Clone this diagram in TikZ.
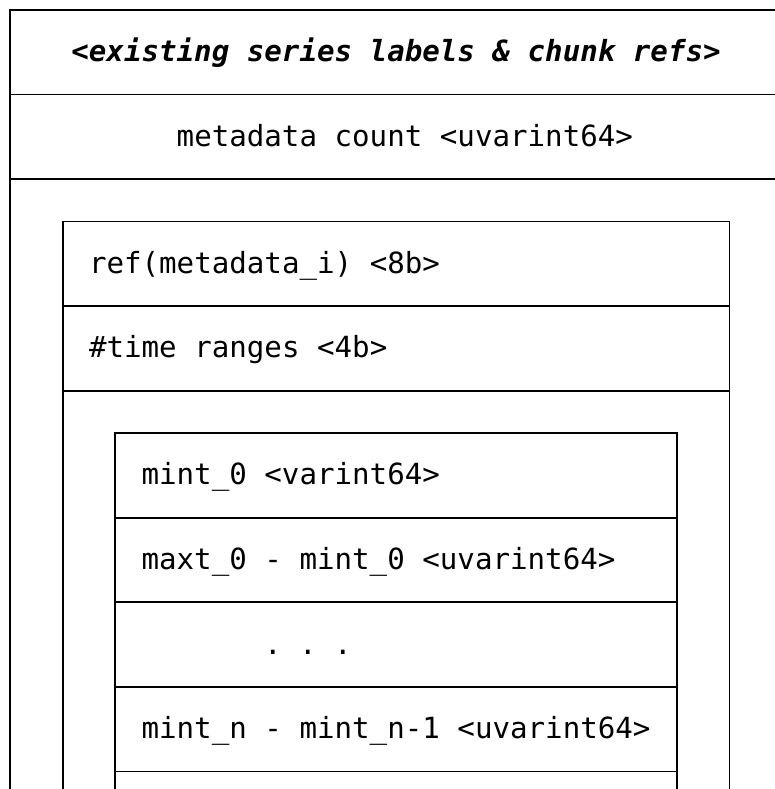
\documentclass[tikz,border=0pt]{standalone}
\usepackage{fontspec}
\setmonofont{DejaVu Sans Mono}
\begin{document}
\begin{tikzpicture}[x=1pt,y=-1pt,
  frame/.style={line width=1.8pt, black, line cap=butt},
  lbl/.style={anchor=base west, inner sep=0pt, outer sep=0pt,
    font=\fontsize{29.15}{35}\selectfont\ttfamily, text=black},
  lblbi/.style={lbl, font=\fontsize{29.15}{35}\selectfont\ttfamily\bfseries\itshape}]
\useasboundingbox (0,0) rectangle (775,789);
\clip (0,0) rectangle (775,789);
% grid helpers: column k start = 1.2 + 17.55 k ; row r centre = 10 + 42.3 r
% outer box
\draw[frame] (800,10) -- (10,10) -- (10,800);
\draw[frame] (10,94.6) -- (800,94.6);
\draw[frame] (10,179.2) -- (800,179.2);
% middle box
\draw[frame] (62.6,800) -- (62.6,221.5) -- (729.5,221.5) -- (729.5,800);
\draw[frame] (62.6,306.1) -- (729.5,306.1);
\draw[frame] (62.6,390.7) -- (729.5,390.7);
% inner box
\draw[frame] (115.3,800) -- (115.3,433) -- (676.9,433) -- (676.9,800);
\draw[frame] (115.3,517.6) -- (676.9,517.6);
\draw[frame] (115.3,602.2) -- (676.9,602.2);
\draw[frame] (115.3,686.8) -- (676.9,686.8);
\draw[frame] (115.3,771.4) -- (676.9,771.4);
% labels
\node[lblbi] (hdr) at (71.4,61.8) {<existing series labels \& chunk refs>};
\node[lbl] (mcount) at (176.7,146.4) {metadata count <uvarint64>};
\node[lbl] (ref) at (89.0,273.3) {ref(metadata\_i) <8b>};
\node[lbl] (tr) at (89.0,357.9) {\#time ranges <4b>};
\node[lbl] (mint0) at (141.6,484.8) {mint\_0 <varint64>};
\node[lbl] (maxt0) at (141.6,569.4) {maxt\_0 - mint\_0 <uvarint64>};
\node[lbl] (dots) at (264.0,654.0) {. . .};
\node[lbl] (mintn) at (141.6,738.6) {mint\_n - mint\_n-1 <uvarint64>};
\end{tikzpicture}
\end{document}
